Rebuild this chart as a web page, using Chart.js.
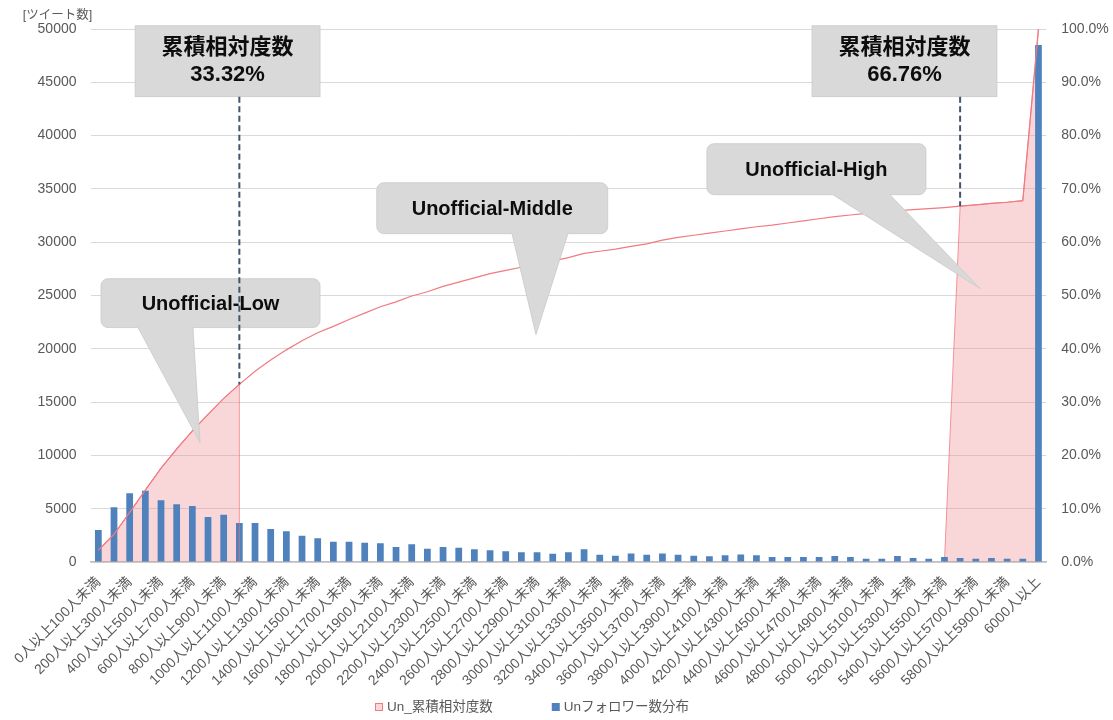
<!DOCTYPE html>
<html lang="ja">
<head>
<meta charset="utf-8">
<title>Unフォロワー数分布</title>
<script src="https://cdn.jsdelivr.net/npm/chart.js@4/dist/chart.umd.min.js"></script>
<style>
  html, body { margin: 0; padding: 0; background: #fff; }
  #chart { display: block; }
</style>
</head>
<body>
<canvas id="chart" width="1113" height="720"></canvas>
<script>
// follower-count buckets (x axis)
const categories = [
  '0人以上100人未満', '100人以上200人未満', '200人以上300人未満', '300人以上400人未満',
  '400人以上500人未満', '500人以上600人未満', '600人以上700人未満', '700人以上800人未満',
  '800人以上900人未満', '900人以上1000人未満', '1000人以上1100人未満', '1100人以上1200人未満',
  '1200人以上1300人未満', '1300人以上1400人未満', '1400人以上1500人未満', '1500人以上1600人未満',
  '1600人以上1700人未満', '1700人以上1800人未満', '1800人以上1900人未満', '1900人以上2000人未満',
  '2000人以上2100人未満', '2100人以上2200人未満', '2200人以上2300人未満', '2300人以上2400人未満',
  '2400人以上2500人未満', '2500人以上2600人未満', '2600人以上2700人未満', '2700人以上2800人未満',
  '2800人以上2900人未満', '2900人以上3000人未満', '3000人以上3100人未満', '3100人以上3200人未満',
  '3200人以上3300人未満', '3300人以上3400人未満', '3400人以上3500人未満', '3500人以上3600人未満',
  '3600人以上3700人未満', '3700人以上3800人未満', '3800人以上3900人未満', '3900人以上4000人未満',
  '4000人以上4100人未満', '4100人以上4200人未満', '4200人以上4300人未満', '4300人以上4400人未満',
  '4400人以上4500人未満', '4500人以上4600人未満', '4600人以上4700人未満', '4700人以上4800人未満',
  '4800人以上4900人未満', '4900人以上5000人未満', '5000人以上5100人未満', '5100人以上5200人未満',
  '5200人以上5300人未満', '5300人以上5400人未満', '5400人以上5500人未満', '5500人以上5600人未満',
  '5600人以上5700人未満', '5700人以上5800人未満', '5800人以上5900人未満', '5900人以上6000人未満',
  '6000人以上'
];

// tweets per bucket (left axis)
const followerCounts = [
  3000, 5130, 6440, 6690, 5800, 5410, 5250, 4220, 4440, 3660,
  3660, 3100, 2880, 2470, 2220, 1900, 1900, 1810, 1750, 1410,
  1660, 1250, 1410, 1340, 1190, 1095, 1010, 920, 920, 780,
  920, 1190, 690, 590, 790, 690, 790, 690, 590, 540,
  625, 700, 625, 470, 470, 470, 470, 560, 470, 310,
  310, 560, 375, 310, 470, 375, 310, 375, 310, 310,
  48500
];

// cumulative relative frequency, % (right axis)
const cumulativePct = [
  2.2, 5.2, 9.3, 13.5, 17.6, 21.2, 24.6, 27.7, 30.7, 33.32,
  35.8, 37.9, 39.8, 41.5, 43.0, 44.2, 45.5, 46.7, 47.9, 48.8,
  49.9, 50.7, 51.7, 52.5, 53.3, 54.1, 54.7, 55.3, 55.9, 56.5,
  57.1, 57.9, 58.3, 58.7, 59.2, 59.7, 60.4, 60.9, 61.3, 61.7,
  62.1, 62.5, 62.9, 63.2, 63.6, 64.0, 64.4, 64.8, 65.1, 65.4,
  65.6, 65.9, 66.1, 66.3, 66.5, 66.76, 67.0, 67.3, 67.5, 67.8,
  100.0
];

const leftTicks = [0, 5000, 10000, 15000, 20000, 25000, 30000, 35000, 40000, 45000, 50000];
const rightTicks = [0, 10, 20, 30, 40, 50, 60, 70, 80, 90, 100];

// shaded segments: Low = first buckets up to 33.32%, High = from the 66.76% step
const lowRange = [0, 9];
const highStart = 54;

const lowFill = cumulativePct.map((v, i) => (i >= lowRange[0] && i <= lowRange[1] ? v : null));
const highFill = cumulativePct.map((v, i) => (i < highStart ? null : i === highStart ? 0 : v));

const FONT = "'Liberation Sans', 'Noto Sans CJK JP', sans-serif";
const TEXT = '#595959';
const BAR = '#4F81BD';
const LINE = '#F07A80';
const AREA = 'rgba(238, 140, 146, 0.35)';
const EDGE = 'rgba(238, 110, 118, 0.7)';

// annotation boxes, placed in axis units (x = bucket index, y = tweet count)
const valueBoxes = [
  { lines: ['累積相対度数', '33.32%'], x0: 2.35, x1: 14.15, top: 50300, bottom: 43650, mark: 9, pct: 33.32 },
  { lines: ['累積相対度数', '66.76%'], x0: 45.55, x1: 57.35, top: 50300, bottom: 43650, mark: 55, pct: 66.76 },
];
const callouts = [
  { text: 'Unofficial-Low', x0: 0.17, x1: 14.15, top: 26580, bottom: 21990, base: [2.53, 6.04], tip: [6.49, 11205] },
  { text: 'Unofficial-Middle', x0: 17.77, x1: 32.51, top: 35580, bottom: 30800, base: [26.4, 29.97], tip: [27.93, 21330] },
  { text: 'Unofficial-High', x0: 38.84, x1: 52.82, top: 39240, bottom: 34460, base: [46.88, 50.52], tip: [56.27, 25650] },
];

function calloutPath(ctx, l, t, r, b, rad, bx0, bx1, tx, ty) {
  ctx.beginPath();
  ctx.moveTo(l + rad, t);
  ctx.lineTo(r - rad, t);
  ctx.arcTo(r, t, r, t + rad, rad);
  ctx.lineTo(r, b - rad);
  ctx.arcTo(r, b, r - rad, b, rad);
  ctx.lineTo(bx1, b);
  ctx.lineTo(tx, ty);
  ctx.lineTo(bx0, b);
  ctx.lineTo(l + rad, b);
  ctx.arcTo(l, b, l, b - rad, rad);
  ctx.lineTo(l, t + rad);
  ctx.arcTo(l, t, l + rad, t, rad);
  ctx.closePath();
}

const annotationPlugin = {
  id: 'annotations',
  afterDatasetsDraw(chart) {
    const { ctx } = chart;
    const { x, y, y1 } = chart.scales;
    ctx.save();

    // right edge of the Low area
    const last = lowRange[1];
    ctx.strokeStyle = EDGE;
    ctx.lineWidth = 1;
    ctx.beginPath();
    ctx.moveTo(x.getPixelForValue(last), y1.getPixelForValue(cumulativePct[last]));
    ctx.lineTo(x.getPixelForValue(last), y.getPixelForValue(0));
    ctx.stroke();

    // speech-bubble callouts
    callouts.forEach((c) => {
      calloutPath(
        ctx,
        x.getPixelForValue(c.x0), y.getPixelForValue(c.top),
        x.getPixelForValue(c.x1), y.getPixelForValue(c.bottom), 7,
        x.getPixelForValue(c.base[0]), x.getPixelForValue(c.base[1]),
        x.getPixelForValue(c.tip[0]), y.getPixelForValue(c.tip[1]),
      );
      ctx.fillStyle = '#D9D9D9';
      ctx.fill();
      ctx.strokeStyle = '#C9C9C9';
      ctx.lineWidth = 0.8;
      ctx.stroke();
      ctx.fillStyle = '#0D0D0D';
      ctx.font = `bold 20px ${FONT}`;
      ctx.textAlign = 'center';
      ctx.textBaseline = 'middle';
      ctx.fillText(
        c.text,
        (x.getPixelForValue(c.x0) + x.getPixelForValue(c.x1)) / 2,
        (y.getPixelForValue(c.top) + y.getPixelForValue(c.bottom)) / 2 + 1,
      );
    });

    // value boxes with dashed markers
    valueBoxes.forEach((b) => {
      const l = x.getPixelForValue(b.x0);
      const r = x.getPixelForValue(b.x1);
      const t = y.getPixelForValue(b.top);
      const bt = y.getPixelForValue(b.bottom);
      ctx.fillStyle = '#D9D9D9';
      ctx.fillRect(l, t, r - l, bt - t);
      ctx.strokeStyle = '#C9C9C9';
      ctx.lineWidth = 0.8;
      ctx.strokeRect(l, t, r - l, bt - t);
      ctx.fillStyle = '#0D0D0D';
      ctx.font = `bold 22px ${FONT}`;
      ctx.textAlign = 'center';
      ctx.textBaseline = 'middle';
      const cx = (l + r) / 2;
      const cy = (t + bt) / 2;
      ctx.fillText(b.lines[0], cx, cy - 13);
      ctx.fillText(b.lines[1], cx, cy + 14);

      const mx = x.getPixelForValue(b.mark);
      ctx.strokeStyle = '#44546A';
      ctx.lineWidth = 2;
      ctx.setLineDash([6, 3.5]);
      ctx.beginPath();
      ctx.moveTo(mx, bt);
      ctx.lineTo(mx, y1.getPixelForValue(b.pct));
      ctx.stroke();
      ctx.setLineDash([]);
    });

    ctx.restore();
  },
  afterDraw(chart) {
    const { ctx, chartArea } = chart;
    ctx.save();
    // left axis unit
    ctx.fillStyle = TEXT;
    ctx.font = `12.5px ${FONT}`;
    ctx.textAlign = 'center';
    ctx.textBaseline = 'middle';
    ctx.fillText('[ツイート数]', chartArea.left - 33, chartArea.top - 13);

    // legend
    const items = [0, 1].map((i) => chart.data.datasets[i]);
    ctx.font = `13.5px ${FONT}`;
    ctx.textAlign = 'left';
    let cx = 375;
    const cy = 707;
    items.forEach((ds) => {
      ctx.fillStyle = ds.backgroundColor;
      ctx.fillRect(cx, cy - 4, 8, 8);
      if (ds.borderWidth) {
        ctx.strokeStyle = ds.borderColor;
        ctx.lineWidth = 1;
        ctx.strokeRect(cx + 0.5, cy - 3.5, 7, 7);
      }
      ctx.fillStyle = TEXT;
      ctx.fillText(ds.label, cx + 12, cy);
      cx += 12 + ctx.measureText(ds.label).width + 59;
    });
    ctx.restore();
  },
};

Chart.defaults.font.family = FONT;
Chart.defaults.color = TEXT;

new Chart(document.getElementById('chart'), {
  type: 'bar',
  data: {
    labels: categories,
    datasets: [
      {
        type: 'line',
        label: 'Un_累積相対度数',
        data: lowFill,
        yAxisID: 'y1',
        backgroundColor: AREA,
        borderColor: LINE,
        borderWidth: 1,
        pointRadius: 0,
        fill: 'origin',
        order: 3,
      },
      {
        type: 'bar',
        label: 'Unフォロワー数分布',
        data: followerCounts,
        yAxisID: 'y',
        backgroundColor: BAR,
        borderWidth: 0,
        categoryPercentage: 1,
        barPercentage: 0.43,
        order: 2,
      },
      {
        type: 'line',
        label: 'Un_累積相対度数 (line)',
        data: cumulativePct,
        yAxisID: 'y1',
        borderColor: LINE,
        borderWidth: 1.2,
        pointRadius: 0,
        fill: false,
        tension: 0,
        order: 1,
      },
      {
        type: 'line',
        label: 'High',
        data: highFill,
        yAxisID: 'y1',
        backgroundColor: AREA,
        borderColor: EDGE,
        borderWidth: 1,
        pointRadius: 0,
        fill: 'origin',
        order: 3,
      },
    ],
  },
  options: {
    responsive: false,
    animation: false,
    devicePixelRatio: 1,
    layout: { padding: { top: 29, bottom: 30, left: 0, right: 0 } },
    plugins: {
      legend: { display: false },
      tooltip: { enabled: false },
    },
    scales: {
      x: {
        grid: { display: false },
        border: { display: true, color: '#BFBFBF', width: 1.5 },
        ticks: {
          autoSkip: false,
          maxRotation: 45,
          minRotation: 45,
          padding: 4,
          color: TEXT,
          font: { size: 14 },
          callback: (v, i) => (i % 2 === 0 ? categories[i] : ''),
        },
        afterFit: (s) => { s.height = 128; },
      },
      y: {
        position: 'left',
        min: 0,
        max: 50000,
        afterBuildTicks: (s) => { s.ticks = leftTicks.map((v) => ({ value: v })); },
        grid: { color: '#D9D9D9', drawTicks: false },
        border: { display: false },
        ticks: { padding: 14, color: TEXT, font: { size: 14 }, callback: (v) => String(v) },
        afterFit: (s) => { s.width = 90.5; },
      },
      y1: {
        position: 'right',
        min: 0,
        max: 100,
        afterBuildTicks: (s) => { s.ticks = rightTicks.map((v) => ({ value: v })); },
        grid: { display: false, drawTicks: false },
        border: { display: false },
        ticks: {
          padding: 15,
          color: TEXT,
          font: { size: 14 },
          callback: (v) => `${Number(v).toFixed(1)}%`,
        },
        afterFit: (s) => { s.width = 66.7; },
      },
    },
  },
  plugins: [annotationPlugin],
});
</script>
</body>
</html>
